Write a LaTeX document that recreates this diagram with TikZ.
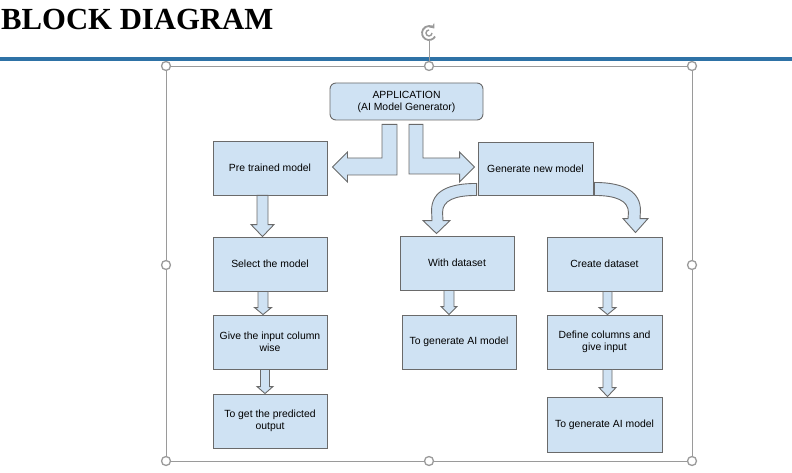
\documentclass[tikz,border=0pt]{standalone}
\usepackage{fontspec}
\setmainfont{Liberation Sans}
\newfontfamily\titlefont{Liberation Serif}
\usetikzlibrary{arrows.meta,positioning,calc}

\definecolor{boxblue}{HTML}{CFE2F3}
\definecolor{edgegray}{HTML}{6A6A6A}
\definecolor{rulerblue}{RGB}{46,114,166}
\definecolor{handlegray}{HTML}{9A9A9A}

\tikzset{
  blk/.style={draw=edgegray,fill=boxblue,line width=0.9pt,minimum width=114pt,minimum height=54pt,
    align=center,inner sep=2pt,font=\fontsize{10.4}{12}\selectfont},
  arr/.style={draw=edgegray,fill=boxblue,line width=0.9pt,line join=miter},
  handle/.style={draw=handlegray,fill=white,line width=1.3pt}
}

\newcommand{\downarr}[6]{%
  \draw[arr] let \p1=($(#1.south)+(#3,0)$), \p2=($(#2.north)+(#3,0)$) in
    (\x1-#4pt,\y1) -- (\x1-#4pt,\y2+#6pt) -- (\x1-#5pt,\y2+#6pt) -- (\x1,\y2)
    -- (\x1+#5pt,\y2+#6pt) -- (\x1+#4pt,\y2+#6pt) -- (\x1+#4pt,\y1) -- cycle;}

\begin{document}
\begin{tikzpicture}[x=1pt,y=-1pt]
        \useasboundingbox (0,0) rectangle (792,473);
        \node[anchor=base west,inner sep=0pt,font=\titlefont\bfseries\fontsize{30.7}{34}\selectfont] (title) at (1,30) {BLOCK DIAGRAM};
        \draw[rulerblue,line width=4pt] (0,59) -- (792,59);
        \draw[handlegray,line width=0.8pt] (166,66) rectangle (692,461);
        \coordinate (rot) at (429,33);
        \draw[handlegray,line width=0.8pt] (429,41) -- (429,61.5);
        \draw[handlegray,line width=1.8pt,-{Stealth[length=4.5pt,width=7pt]}] ($(rot)+(6.1,3.5)$) arc[start angle=30,end angle=320,radius=7];
        \draw[handlegray,line width=1.4pt] ($(rot)+(3,0)$) arc[start angle=0,end angle=270,radius=3];
        \foreach \x/\y in {166/66,429/66,692/66,166/265,692/265,166/461,429/461,692/461}{\draw[handle] (\x,\y) circle (4.5);}

        \node[blk,rounded corners=6pt,minimum width=153pt,minimum height=37pt] (app) at (406.5,101.5) {APPLICATION\\(AI Model Generator)};
        \node[blk] (pre) at (270,168) {Pre trained model};
        \node[blk,minimum width=115pt,minimum height=53pt] (gen) at (535.5,168.5) {Generate new model};
        \node[blk] (sel) at (270,264) {Select the model};
        \node[blk] (give) at (270,342) {Give the input column\\wise};
        \node[blk] (pred) at (270,421) {To get the predicted\\output};
        \node[blk] (withd) at (457,263) {With dataset};
        \node[blk] (gena) at (459,342) {To generate AI model};
        \node[blk,minimum width=115pt] (create) at (604.5,264) {Create dataset};
        \node[blk,minimum width=115pt] (define) at (604.5,342) {Define columns and\\give input};
        \node[blk,minimum width=115pt,minimum height=55pt] (genb) at (604.5,424.5) {To generate AI model};

        \draw[arr] let \p1=(app.south), \p2=(pre.east) in
          (\x1-9.5pt,\y1-4pt) -- (\x1-9.5pt,\y2-7pt) -- (\x2+20pt,\y2-7pt) -- (\x2+20pt,\y2-14pt) -- (\x2+5pt,\y2+1pt)
          -- (\x2+20pt,\y2+16pt) -- (\x2+20pt,\y2+10pt) -- (\x1-24.5pt,\y2+10pt) -- (\x1-24.5pt,\y1-4pt) -- cycle;
        \draw[arr] let \p1=(app.south), \p2=(gen.west) in
          (\x1+2.5pt,\y1-4pt) -- (\x1+2.5pt,\y2-5.5pt) -- (\x2-18pt,\y2-5.5pt) -- (\x2-18pt,\y2-13.5pt) -- (\x2-3pt,\y2+1.5pt)
          -- (\x2-18pt,\y2+16.5pt) -- (\x2-18pt,\y2+10.5pt) -- (\x1+16.5pt,\y2+10.5pt) -- (\x1+16.5pt,\y1-4pt) -- cycle;
        \draw[arr] let \p1=(gen.south west), \p2=(withd.north) in
          (\x1-1pt,\y1+12pt) .. controls (\x1-28pt,\y1+12pt) and (\x1-46pt,\y1+5pt) .. (\x1-46pt,\y1-15pt)
          -- (\x2-25pt,\y2+15pt) -- (\x2-34pt,\y2+15pt) -- (\x2-20.5pt,\y2+2pt) -- (\x2-7pt,\y2+15pt) -- (\x2-14pt,\y2+15pt)
          -- (\x1-35pt,\y1-17pt) .. controls (\x1-35pt,\y1-5pt) and (\x1-23pt,\y1) .. (\x1-1pt,\y1) -- cycle;
        \draw[arr] let \p1=(gen.south east), \p2=(create.north) in
          (\x1+1pt,\y1+13pt) .. controls (\x1+32pt,\y1+13pt) and (\x1+47pt,\y1+3pt) .. (\x1+47pt,\y1-15pt)
          -- (\x2+35.5pt,\y2+18pt) -- (\x2+43.5pt,\y2+18pt) -- (\x2+31pt,\y2+4pt) -- (\x2+18.5pt,\y2+18pt) -- (\x2+23.5pt,\y2+18pt)
          -- (\x1+35pt,\y1-17pt) .. controls (\x1+35pt,\y1-5pt) and (\x1+22pt,\y1) .. (\x1+1pt,\y1) -- cycle;

        \downarr{pre}{sel}{-7.5}{5.5}{11.5}{12}
        \downarr{sel}{give}{-7}{5}{8.5}{7}
        \downarr{give}{pred}{-5}{4.5}{8}{7}
        \downarr{withd}{gena}{-8}{5}{8}{8}
        \downarr{create}{define}{3}{4.5}{8.5}{7}
        \downarr{define}{genb}{3}{4.5}{8.5}{9}
      \end{tikzpicture}
\end{document}
